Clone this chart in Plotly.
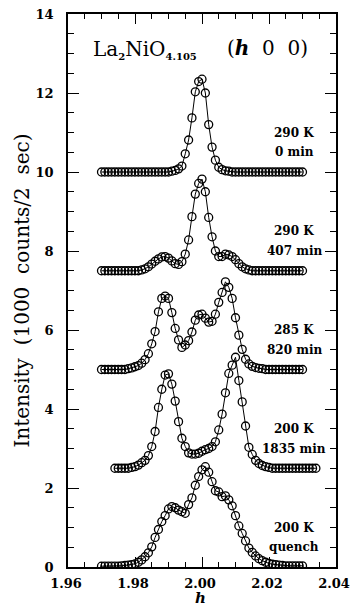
import numpy as np
import plotly.graph_objects as go

# Scan grids along (h 0 0)
h_main = np.round(np.arange(1.970, 2.0305, 0.001), 3)
h_shift = np.round(np.arange(1.974, 2.0345, 0.001), 3)

# Intensities (1000 counts / 2 sec), curves offset vertically
i_290K_0min = [
    10.0, 10.0, 10.0, 10.0, 10.0, 10.0, 10.0, 10.0, 10.0, 10.0, 10.0,
    10.0, 10.0, 10.0, 10.0, 10.0, 10.0, 10.0, 10.0, 10.0, 10.0,
    10.02, 10.04, 10.08, 10.15, 10.46, 10.81, 11.37, 12.03, 12.29, 12.35,
    12.0, 11.2, 10.63, 10.30, 10.12, 10.06, 10.03, 10.02,
    10.0, 10.0, 10.0, 10.0, 10.0, 10.0, 10.0, 10.0, 10.0, 10.0, 10.0,
    10.0, 10.0, 10.0, 10.0, 10.0, 10.0, 10.0, 10.0, 10.0, 10.0, 10.0,
]
i_290K_407min = [
    7.5, 7.5, 7.5, 7.5, 7.5, 7.5, 7.5, 7.5, 7.5, 7.5, 7.5, 7.5,
    7.52, 7.55, 7.6, 7.67, 7.74, 7.8, 7.85, 7.86, 7.82, 7.75, 7.68,
    7.66, 7.73, 7.92, 8.28, 8.87, 9.44, 9.71, 9.82, 9.50, 8.85, 8.36,
    8.0, 7.86, 7.86, 7.92, 7.9, 7.86, 7.78, 7.68, 7.6, 7.55, 7.52,
    7.5, 7.5, 7.5, 7.5, 7.5, 7.5, 7.5, 7.5, 7.5, 7.5, 7.5, 7.5, 7.5, 7.5, 7.5, 7.5,
]
i_285K_820min = [
    5.0, 5.0, 5.0, 5.0, 5.0, 5.0, 5.0, 5.0,
    5.02, 5.04, 5.07, 5.1, 5.16, 5.25, 5.4, 5.65, 5.96, 6.46, 6.8, 6.86,
    6.80, 6.44, 6.04, 5.75, 5.56, 5.62, 5.73, 5.95, 6.25, 6.38, 6.4,
    6.3, 6.2, 6.22, 6.4, 6.7, 6.95, 7.22, 7.08, 6.80, 6.31, 5.87, 5.51,
    5.26, 5.14, 5.08, 5.05, 5.03, 5.02,
    5.0, 5.0, 5.0, 5.0, 5.0, 5.0, 5.0, 5.0, 5.0, 5.0, 5.0, 5.0,
]
i_200K_1835min = [
    2.5, 2.5, 2.5, 2.5, 2.5,
    2.52, 2.54, 2.58, 2.64, 2.7, 2.82, 3.05, 3.43, 4.04, 4.5, 4.86, 4.89,
    4.63, 4.2, 3.68, 3.26, 3.05, 2.89, 2.86, 2.86, 2.88, 2.93, 2.97, 3.0,
    3.05, 3.17, 3.47, 3.87, 4.41, 4.9, 5.11, 5.31, 4.72, 4.18, 3.57, 3.03,
    2.85, 2.7, 2.62, 2.57, 2.54, 2.52,
    2.5, 2.5, 2.5, 2.5, 2.5, 2.5, 2.5, 2.5, 2.5, 2.5, 2.5, 2.5, 2.5, 2.5,
]
i_200K_quench = [
    0.02, 0.02, 0.02, 0.02, 0.02, 0.02, 0.03, 0.04, 0.05, 0.06,
    0.08, 0.12, 0.18, 0.26, 0.36, 0.51, 0.75, 0.95, 1.15, 1.3,
    1.47, 1.53, 1.50, 1.44, 1.40, 1.36, 1.58, 1.75, 2.07, 2.29,
    2.46, 2.54, 2.4, 2.16, 1.93, 1.9, 1.78, 1.8, 1.7, 1.55,
    1.3, 1.04, 0.85, 0.66, 0.48, 0.37, 0.28, 0.21, 0.16, 0.12,
    0.09, 0.07, 0.06, 0.05, 0.04, 0.03, 0.03, 0.03, 0.03, 0.03, 0.03,
]

series_h = [h_main, h_main, h_main, h_shift, h_main]
series_i = [i_290K_0min, i_290K_407min, i_285K_820min, i_200K_1835min, i_200K_quench]
temperatures = ["290 K", "290 K", "285 K", "200 K", "200 K"]
durations = ["0 min", "407 min", "820 min", "1835 min", "quench"]
offsets = [10.0, 7.5, 5.0, 2.5, 0.0]

x_ticks = [1.96, 1.98, 2.00, 2.02, 2.04]
x_tick_text = ["1.96", "1.98", "2.00", "2.02", "2.04"]

serif = "DejaVu Serif"

fig = go.Figure()
for h, inten in zip(series_h, series_i):
    fig.add_trace(go.Scatter(
        x=h, y=inten, mode="lines+markers",
        line=dict(color="black", width=1),
        marker=dict(symbol="circle-open", size=8, color="black",
                    line=dict(width=1.3, color="black")),
        showlegend=False, hoverinfo="skip",
    ))

label_x = 2.0275
for temp, dur, base in zip(temperatures, durations, offsets):
    for txt, dy in ((temp, 1.0), (dur, 0.5)):
        fig.add_annotation(
            x=label_x, y=base + dy, xref="x", yref="y",
            text=f"<b>{txt}</b>", showarrow=False,
            font=dict(family=serif, size=12, color="black"),
            xanchor="center", yanchor="middle",
        )

fig.add_annotation(
    x=1.967, y=13.1, xref="x", yref="y", xanchor="left", yanchor="middle",
    text=("La<sub><span style='font-size:10px'><b>2</b></span></sub>NiO"
          "<sub><span style='font-size:10px'><b>4.105</b></span></sub>"),
    showarrow=False, font=dict(family=serif, size=20, color="black"),
)
fig.add_annotation(
    x=2.0195, y=13.15, xref="x", yref="y", xanchor="center", yanchor="middle",
    text="(<b><i>h</i></b>\u00a0 0\u00a0 0)", showarrow=False,
    font=dict(family=serif, size=20, color="black"),
)

# x-axis title sitting at the bottom edge, under the tick labels
fig.add_annotation(
    x=0.495, y=-0.0755, xref="paper", yref="paper", xanchor="center", yanchor="bottom",
    text="<b><i>h</i></b>", showarrow=False,
    font=dict(family=serif, size=15, color="black"),
)

axis_common = dict(
    showline=True, linecolor="black", linewidth=1.5, mirror="allticks",
    ticks="inside", tickcolor="black", tickwidth=1.2,
    showgrid=False, zeroline=False, automargin=False,
    tickfont=dict(family=serif, size=13, color="black", weight="bold"),
)

fig.update_xaxes(
    range=[1.96, 2.04], tickmode="array", tickvals=x_ticks, ticktext=x_tick_text,
    ticklen=10, ticklabelstandoff=4, ticklabelshift=-2, ticklabeloverflow="allow",
    minor=dict(dtick=0.005, tick0=1.96, ticks="inside", ticklen=5,
               tickcolor="black", tickwidth=1.2),
    **axis_common,
)
fig.update_yaxes(
    range=[0, 14], dtick=2, tick0=0, ticklen=11, ticklabelstandoff=10,
    minor=dict(dtick=0.5, ticks="inside", ticklen=6, tickcolor="black", tickwidth=1.2),
    title=dict(text="Intensity\u00a0 (1000\u00a0 counts/2\u00a0 sec)",
               font=dict(family=serif, size=20, color="black"), standoff=1),
    **axis_common,
)

fig.update_layout(
    width=350, height=609,
    margin=dict(l=68, r=14, t=14, b=42),
    paper_bgcolor="white", plot_bgcolor="white",
)

fig.write_html("out.html")
